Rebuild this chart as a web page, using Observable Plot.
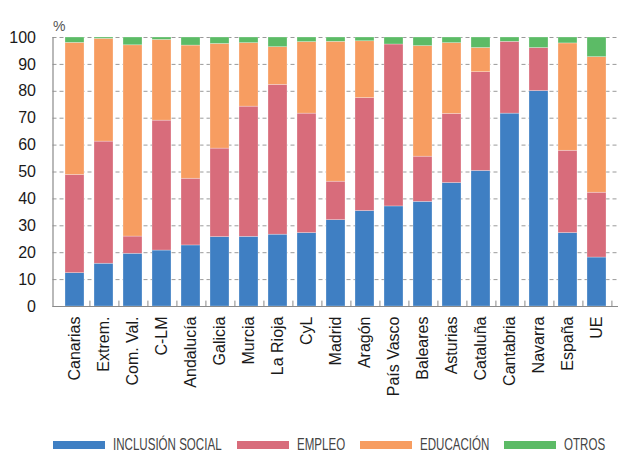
<!DOCTYPE html>
<html>
<head>
<meta charset="utf-8">
<script src="https://cdn.jsdelivr.net/npm/d3@7"></script>
<script src="https://cdn.jsdelivr.net/npm/@observablehq/plot@0.6"></script>
<style>
  html, body { margin: 0; padding: 0; background: #fff; }
  #chart svg { display: block; }
  .legend { position: relative; height: 30px; font-family: "Liberation Sans", Arial, sans-serif; font-size: 17px; color: #444; }
  .legend .item { position: absolute; top: 0; display: flex; align-items: center; height: 20px; }
  .legend .sw { width: 52px; height: 8px; margin-right: 8px; }
  .legend .lab { display: inline-block; transform-origin: left center; white-space: nowrap; line-height: 20px; }
</style>
</head>
<body>
<div id="chart"></div>
<div class="legend" id="legend"></div>
<script>
// Regions, ordered as in the chart
const regions = ["Canarias", "Extrem.", "Com. Val.", "C-LM", "Andalucía", "Galicia", "Murcia", "La Rioja", "CyL", "Madrid", "Aragón", "País Vasco", "Baleares", "Asturias", "Cataluña", "Cantabria", "Navarra", "España", "UE"];

// Share of each programme area (%)
const inclusionSocial = [12.4, 15.9, 19.6, 20.8, 22.7, 25.8, 25.9, 26.7, 27.3, 32.1, 35.5, 37.2, 38.9, 45.9, 50.4, 71.7, 80.1, 27.3, 18.2];
const empleo          = [36.5, 45.4, 6.4, 48.3, 24.8, 32.9, 48.4, 55.7, 44.4, 14.3, 42.0, 60.2, 16.8, 25.7, 36.7, 26.7, 16.0, 30.6, 24.1];
const educacion       = [49.1, 38.2, 71.1, 30.0, 49.5, 38.9, 23.6, 14.0, 26.6, 52.0, 21.1, 0, 41.1, 26.3, 9.0, 0, 0, 39.9, 50.4];
const otros           = [2.0, 0.5, 2.9, 0.9, 3.0, 2.4, 2.1, 3.6, 1.7, 1.6, 1.4, 2.6, 3.2, 2.1, 3.9, 1.6, 3.9, 2.2, 7.3];

const seriesNames = ["INCLUSIÓN SOCIAL", "EMPLEO", "EDUCACIÓN", "OTROS"];
const seriesColors = ["#3f7fc3", "#d86c7b", "#f79d61", "#5cbb66"];
const yTicks = [0, 10, 20, 30, 40, 50, 60, 70, 80, 90, 100];

const seriesValues = [inclusionSocial, empleo, educacion, otros];
const rows = [];
seriesNames.forEach((s, si) => {
  regions.forEach((r, ri) => rows.push({region: r, serie: s, value: seriesValues[si][ri]}));
});

const W = 618, H = 425;
const xLeft = 52.5, xRight = 619.4;
const bandStep = (xRight - xLeft) / regions.length;

const chart = Plot.plot({
  width: W,
  height: H,
  marginTop: 37,
  marginBottom: 119,
  marginLeft: 52.5,
  marginRight: 0,
  style: {fontFamily: "'Liberation Sans', Arial, sans-serif", fontSize: "16px", color: "#1a1a1a", background: "#fff"},
  x: {domain: regions, range: [xLeft, xRight], padding: 0.33, label: null},
  y: {domain: [0, 100], label: null},
  color: {domain: seriesNames, range: seriesColors},
  marks: [
    Plot.gridY(yTicks.filter(d => d > 0), {stroke: "#9a9a9a", strokeOpacity: 1, strokeDasharray: "4,3", strokeWidth: 1}),
    Plot.barY(rows, {x: "region", y: "value", fill: "serie", z: "serie", stroke: "#fff", strokeOpacity: 0.45, strokeWidth: 0.6}),
    Plot.ruleY([0], {stroke: "#8a8a8a", strokeWidth: 1.2}),
    Plot.frame({anchor: "left", stroke: "#8a8a8a", strokeWidth: 1.2}),
    Plot.ruleX(regions, {x: d => d, y1: 0, y2: 2, dx: bandStep / 2, stroke: "#8a8a8a", strokeWidth: 1}),
    Plot.axisY({ticks: yTicks, tickSize: 0, tickPadding: 17, fontSize: 16, label: null}),
    Plot.axisX({tickSize: 0, tickPadding: 10, tickRotate: -90, fontSize: 16, label: null}),
    Plot.text(["%"], {frameAnchor: "top-left", dy: -16, dx: 0, textAnchor: "start", fontSize: 14, fill: "#555"})
  ]
});
document.getElementById("chart").appendChild(chart);

// Legend below the plot, with condensed labels
const legend = document.getElementById("legend");
legend.style.marginTop = "10px";
const squeeze = 0.68;
let xPos = 53;
seriesNames.forEach((s, i) => {
  const item = document.createElement("div");
  item.className = "item";
  item.style.left = xPos + "px";
  const sw = document.createElement("span");
  sw.className = "sw";
  sw.style.background = seriesColors[i];
  const lab = document.createElement("span");
  lab.className = "lab";
  lab.textContent = s;
  item.appendChild(sw);
  item.appendChild(lab);
  legend.appendChild(item);
  const w = lab.offsetWidth;
  lab.style.transform = `scaleX(${squeeze})`;
  lab.style.marginRight = (-(1 - squeeze) * w) + "px";
  xPos += 52 + 8 + w * squeeze + 15;
});
</script>
</body>
</html>
